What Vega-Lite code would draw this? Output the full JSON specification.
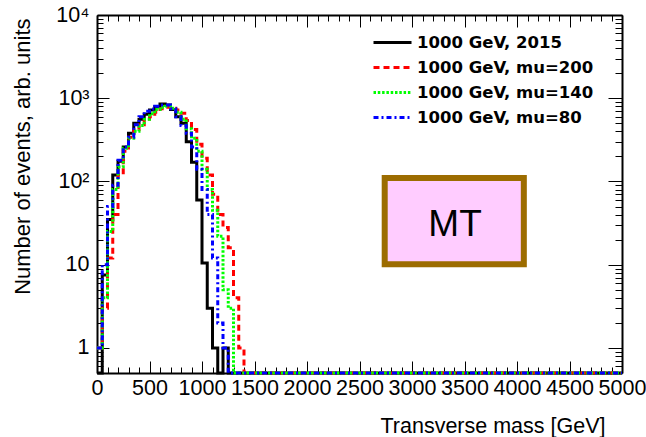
{
  "$schema": "https://vega.github.io/schema/vega-lite/v6.json",
  "width": 525,
  "height": 358,
  "autosize": "none",
  "padding": {"left": 97, "top": 15, "right": 24, "bottom": 64},
  "background": "white",
  "config": {"view": {"stroke": null}, "font": "Liberation Sans"},
  "datasets": {
    "hist": [
      {"sample": "1000 GeV, 2015", "mt": 0, "events": 0.5},
      {"sample": "1000 GeV, 2015", "mt": 50, "events": 7.5},
      {"sample": "1000 GeV, 2015", "mt": 100, "events": 35},
      {"sample": "1000 GeV, 2015", "mt": 150, "events": 120},
      {"sample": "1000 GeV, 2015", "mt": 200, "events": 175},
      {"sample": "1000 GeV, 2015", "mt": 250, "events": 260},
      {"sample": "1000 GeV, 2015", "mt": 300, "events": 380},
      {"sample": "1000 GeV, 2015", "mt": 350, "events": 500},
      {"sample": "1000 GeV, 2015", "mt": 400, "events": 560},
      {"sample": "1000 GeV, 2015", "mt": 450, "events": 640},
      {"sample": "1000 GeV, 2015", "mt": 500, "events": 720},
      {"sample": "1000 GeV, 2015", "mt": 550, "events": 790},
      {"sample": "1000 GeV, 2015", "mt": 600, "events": 850},
      {"sample": "1000 GeV, 2015", "mt": 650, "events": 830},
      {"sample": "1000 GeV, 2015", "mt": 700, "events": 730},
      {"sample": "1000 GeV, 2015", "mt": 750, "events": 600},
      {"sample": "1000 GeV, 2015", "mt": 800, "events": 500},
      {"sample": "1000 GeV, 2015", "mt": 850, "events": 300},
      {"sample": "1000 GeV, 2015", "mt": 900, "events": 170},
      {"sample": "1000 GeV, 2015", "mt": 950, "events": 60},
      {"sample": "1000 GeV, 2015", "mt": 1000, "events": 10.5},
      {"sample": "1000 GeV, 2015", "mt": 1050, "events": 3},
      {"sample": "1000 GeV, 2015", "mt": 1100, "events": 1},
      {"sample": "1000 GeV, 2015", "mt": 1150, "events": 0.5},
      {"sample": "1000 GeV, 2015", "mt": 1200, "events": 1},
      {"sample": "1000 GeV, 2015", "mt": 1250, "events": 0.5},
      {"sample": "1000 GeV, 2015", "mt": 5000, "events": 0.5},

      {"sample": "1000 GeV, mu=200", "mt": 0, "events": 1},
      {"sample": "1000 GeV, mu=200", "mt": 50, "events": 3},
      {"sample": "1000 GeV, mu=200", "mt": 100, "events": 12},
      {"sample": "1000 GeV, mu=200", "mt": 150, "events": 40},
      {"sample": "1000 GeV, mu=200", "mt": 200, "events": 120},
      {"sample": "1000 GeV, mu=200", "mt": 250, "events": 230},
      {"sample": "1000 GeV, mu=200", "mt": 300, "events": 340},
      {"sample": "1000 GeV, mu=200", "mt": 350, "events": 420},
      {"sample": "1000 GeV, mu=200", "mt": 400, "events": 480},
      {"sample": "1000 GeV, mu=200", "mt": 450, "events": 540},
      {"sample": "1000 GeV, mu=200", "mt": 500, "events": 600},
      {"sample": "1000 GeV, mu=200", "mt": 550, "events": 680},
      {"sample": "1000 GeV, mu=200", "mt": 600, "events": 750},
      {"sample": "1000 GeV, mu=200", "mt": 650, "events": 780},
      {"sample": "1000 GeV, mu=200", "mt": 700, "events": 760},
      {"sample": "1000 GeV, mu=200", "mt": 750, "events": 720},
      {"sample": "1000 GeV, mu=200", "mt": 800, "events": 660},
      {"sample": "1000 GeV, mu=200", "mt": 850, "events": 540},
      {"sample": "1000 GeV, mu=200", "mt": 900, "events": 420},
      {"sample": "1000 GeV, mu=200", "mt": 950, "events": 280},
      {"sample": "1000 GeV, mu=200", "mt": 1000, "events": 190},
      {"sample": "1000 GeV, mu=200", "mt": 1050, "events": 120},
      {"sample": "1000 GeV, mu=200", "mt": 1100, "events": 70},
      {"sample": "1000 GeV, mu=200", "mt": 1150, "events": 40},
      {"sample": "1000 GeV, mu=200", "mt": 1200, "events": 28},
      {"sample": "1000 GeV, mu=200", "mt": 1250, "events": 16},
      {"sample": "1000 GeV, mu=200", "mt": 1300, "events": 4},
      {"sample": "1000 GeV, mu=200", "mt": 1350, "events": 1},
      {"sample": "1000 GeV, mu=200", "mt": 1400, "events": 0.5},
      {"sample": "1000 GeV, mu=200", "mt": 5000, "events": 0.5},

      {"sample": "1000 GeV, mu=140", "mt": 0, "events": 1},
      {"sample": "1000 GeV, mu=140", "mt": 50, "events": 4},
      {"sample": "1000 GeV, mu=140", "mt": 100, "events": 25},
      {"sample": "1000 GeV, mu=140", "mt": 150, "events": 80},
      {"sample": "1000 GeV, mu=140", "mt": 200, "events": 150},
      {"sample": "1000 GeV, mu=140", "mt": 250, "events": 250},
      {"sample": "1000 GeV, mu=140", "mt": 300, "events": 330},
      {"sample": "1000 GeV, mu=140", "mt": 350, "events": 400},
      {"sample": "1000 GeV, mu=140", "mt": 400, "events": 470},
      {"sample": "1000 GeV, mu=140", "mt": 450, "events": 560},
      {"sample": "1000 GeV, mu=140", "mt": 500, "events": 650},
      {"sample": "1000 GeV, mu=140", "mt": 550, "events": 730},
      {"sample": "1000 GeV, mu=140", "mt": 600, "events": 780},
      {"sample": "1000 GeV, mu=140", "mt": 650, "events": 800},
      {"sample": "1000 GeV, mu=140", "mt": 700, "events": 760},
      {"sample": "1000 GeV, mu=140", "mt": 750, "events": 680},
      {"sample": "1000 GeV, mu=140", "mt": 800, "events": 560},
      {"sample": "1000 GeV, mu=140", "mt": 850, "events": 430},
      {"sample": "1000 GeV, mu=140", "mt": 900, "events": 330},
      {"sample": "1000 GeV, mu=140", "mt": 950, "events": 230},
      {"sample": "1000 GeV, mu=140", "mt": 1000, "events": 140},
      {"sample": "1000 GeV, mu=140", "mt": 1050, "events": 80},
      {"sample": "1000 GeV, mu=140", "mt": 1100, "events": 45},
      {"sample": "1000 GeV, mu=140", "mt": 1150, "events": 22},
      {"sample": "1000 GeV, mu=140", "mt": 1200, "events": 5},
      {"sample": "1000 GeV, mu=140", "mt": 1250, "events": 3},
      {"sample": "1000 GeV, mu=140", "mt": 1300, "events": 0.5},
      {"sample": "1000 GeV, mu=140", "mt": 5000, "events": 0.5},

      {"sample": "1000 GeV, mu=80", "mt": 0, "events": 1},
      {"sample": "1000 GeV, mu=80", "mt": 50, "events": 10},
      {"sample": "1000 GeV, mu=80", "mt": 100, "events": 50},
      {"sample": "1000 GeV, mu=80", "mt": 150, "events": 90},
      {"sample": "1000 GeV, mu=80", "mt": 200, "events": 180},
      {"sample": "1000 GeV, mu=80", "mt": 250, "events": 260},
      {"sample": "1000 GeV, mu=80", "mt": 300, "events": 340},
      {"sample": "1000 GeV, mu=80", "mt": 350, "events": 480},
      {"sample": "1000 GeV, mu=80", "mt": 400, "events": 600},
      {"sample": "1000 GeV, mu=80", "mt": 450, "events": 700},
      {"sample": "1000 GeV, mu=80", "mt": 500, "events": 740},
      {"sample": "1000 GeV, mu=80", "mt": 550, "events": 800},
      {"sample": "1000 GeV, mu=80", "mt": 600, "events": 830},
      {"sample": "1000 GeV, mu=80", "mt": 650, "events": 830},
      {"sample": "1000 GeV, mu=80", "mt": 700, "events": 750},
      {"sample": "1000 GeV, mu=80", "mt": 750, "events": 600},
      {"sample": "1000 GeV, mu=80", "mt": 800, "events": 470},
      {"sample": "1000 GeV, mu=80", "mt": 850, "events": 380},
      {"sample": "1000 GeV, mu=80", "mt": 900, "events": 260},
      {"sample": "1000 GeV, mu=80", "mt": 950, "events": 140},
      {"sample": "1000 GeV, mu=80", "mt": 1000, "events": 80},
      {"sample": "1000 GeV, mu=80", "mt": 1050, "events": 40},
      {"sample": "1000 GeV, mu=80", "mt": 1100, "events": 12},
      {"sample": "1000 GeV, mu=80", "mt": 1150, "events": 2},
      {"sample": "1000 GeV, mu=80", "mt": 1200, "events": 1},
      {"sample": "1000 GeV, mu=80", "mt": 1250, "events": 0.5},
      {"sample": "1000 GeV, mu=80", "mt": 5000, "events": 0.5}
    ]
  },
  "layer": [
    {
      "data": {"name": "hist"},
      "mark": {"type": "line", "interpolate": "step-after"},
      "encoding": {
        "x": {
          "field": "mt", "type": "quantitative",
          "scale": {"domain": [0, 5000], "nice": false, "zero": false},
          "axis": {
            "orient": "bottom",
            "values": [0,100,200,300,400,500,600,700,800,900,1000,1100,1200,1300,1400,1500,1600,1700,1800,1900,2000,2100,2200,2300,2400,2500,2600,2700,2800,2900,3000,3100,3200,3300,3400,3500,3600,3700,3800,3900,4000,4100,4200,4300,4400,4500,4600,4700,4800,4900,5000],
            "format": "d",
            "labelExpr": "datum.value % 500 === 0 ? datum.label : ''",
            "tickSize": {"condition": {"test": "datum.value % 500 === 0", "value": -12}, "value": -6},
            "tickColor": "black", "tickWidth": 1,
            "domainColor": "black", "domainWidth": 2,
            "grid": false,
            "labelFont": "Liberation Sans", "labelFontSize": 21.5, "labelColor": "black",
            "labelPadding": 16, "labelOverlap": false, "labelBound": false, "labelFlush": false,
            "title": "Transverse mass [GeV]",
            "titleFont": "Liberation Sans", "titleFontSize": 21.5, "titleFontWeight": "normal", "titleColor": "black",
            "titleAnchor": "end", "titleAlign": "right", "titleBaseline": "alphabetic",
            "titleX": 508, "titleY": 59
          }
        },
        "y": {
          "field": "events", "type": "quantitative",
          "scale": {"type": "log", "domain": [0.5, 10000], "nice": false},
          "axis": {
            "orient": "left",
            "values": [0.6,0.7,0.8,0.9,1,2,3,4,5,6,7,8,9,10,20,30,40,50,60,70,80,90,100,200,300,400,500,600,700,800,900,1000,2000,3000,4000,5000,6000,7000,8000,9000,10000],
            "labelExpr": "datum.value == 1 ? '1' : datum.value == 10 ? '10' : datum.value == 100 ? '10²' : datum.value == 1000 ? '10³' : datum.value == 10000 ? '10⁴' : ''",
            "tickSize": {"condition": {"test": "indexof([1,10,100,1000,10000], datum.value) >= 0", "value": -12}, "value": -6},
            "tickColor": "black", "tickWidth": 1,
            "domainColor": "black", "domainWidth": 2,
            "grid": false,
            "labelFont": "Liberation Sans", "labelFontSize": 21.5, "labelColor": "black",
            "labelPadding": 20, "labelOverlap": false, "labelBound": false, "labelFlush": false,
            "title": "Number of events, arb. units",
            "titleFont": "Liberation Sans", "titleFontSize": 22, "titleFontWeight": "normal", "titleColor": "black",
            "titleAnchor": "end", "titleAngle": 270, "titleAlign": "right", "titleBaseline": "middle",
            "titleX": -75, "titleY": 3
          }
        },
        "color": {
          "field": "sample", "type": "nominal",
          "scale": {"domain": ["1000 GeV, 2015", "1000 GeV, mu=200", "1000 GeV, mu=140", "1000 GeV, mu=80"], "range": ["#000000", "#ff0000", "#00ff00", "#0000ff"]},
          "legend": {"title": null, "orient": "none", "legendX": 275, "legendY": 15, "symbolType": "stroke", "symbolSize": 1444, "symbolStrokeWidth": 3, "labelFont": "DejaVu Sans", "labelFontWeight": "bold", "labelFontSize": 16.5, "labelColor": "black", "labelOffset": 4, "rowPadding": 0, "clipHeight": 25, "padding": 0, "labelLimit": 300}
        },
        "strokeDash": {
          "field": "sample", "type": "nominal",
          "scale": {"domain": ["1000 GeV, 2015", "1000 GeV, mu=200", "1000 GeV, mu=140", "1000 GeV, mu=80"], "range": [[1, 0], [6, 4], [2.5, 1.8], [5, 3, 2, 3]]},
          "legend": {"title": null, "orient": "none", "legendX": 275, "legendY": 15, "symbolType": "stroke", "symbolSize": 1444, "symbolStrokeWidth": 3, "labelFont": "DejaVu Sans", "labelFontWeight": "bold", "labelFontSize": 16.5, "labelColor": "black", "labelOffset": 4, "rowPadding": 0, "clipHeight": 25, "padding": 0, "labelLimit": 300}
        },
        "strokeWidth": {
          "field": "sample", "type": "nominal",
          "scale": {"domain": ["1000 GeV, 2015", "1000 GeV, mu=200", "1000 GeV, mu=140", "1000 GeV, mu=80"], "range": [3, 3, 3, 4]},
          "legend": null
        }
      }
    },
    {
      "data": {"values": [{}]},
      "mark": {"type": "rect", "fill": "#ffccff", "stroke": "#9c6c00", "strokeWidth": 6},
      "encoding": {
        "x": {"datum": 2740, "type": "quantitative", "axis": null},
        "x2": {"datum": 4065},
        "y": {"datum": 110, "type": "quantitative", "axis": null},
        "y2": {"datum": 10.1}
      }
    },
    {
      "data": {"values": [{}]},
      "mark": {"type": "text", "text": "MT", "font": "Liberation Sans", "fontSize": 37, "color": "black", "align": "center", "baseline": "alphabetic"},
      "encoding": {
        "x": {
          "datum": 3410, "type": "quantitative",
          "axis": {
            "orient": "top",
            "values": [0,100,200,300,400,500,600,700,800,900,1000,1100,1200,1300,1400,1500,1600,1700,1800,1900,2000,2100,2200,2300,2400,2500,2600,2700,2800,2900,3000,3100,3200,3300,3400,3500,3600,3700,3800,3900,4000,4100,4200,4300,4400,4500,4600,4700,4800,4900,5000],
            "labels": false, "title": null, "grid": false,
            "tickSize": {"condition": {"test": "datum.value % 500 === 0", "value": -12}, "value": -6},
            "tickColor": "black", "tickWidth": 1,
            "domainColor": "black", "domainWidth": 2
          }
        },
        "y": {
          "datum": 22.1, "type": "quantitative",
          "axis": {
            "orient": "right",
            "values": [0.6,0.7,0.8,0.9,1,2,3,4,5,6,7,8,9,10,20,30,40,50,60,70,80,90,100,200,300,400,500,600,700,800,900,1000,2000,3000,4000,5000,6000,7000,8000,9000,10000],
            "labels": false, "title": null, "grid": false,
            "tickSize": {"condition": {"test": "indexof([1,10,100,1000,10000], datum.value) >= 0", "value": -14}, "value": -7},
            "tickColor": "black", "tickWidth": 1,
            "domainColor": "black", "domainWidth": 2
          }
        }
      }
    }
  ],
  "resolve": {"axis": {"x": "independent", "y": "independent"}}
}
